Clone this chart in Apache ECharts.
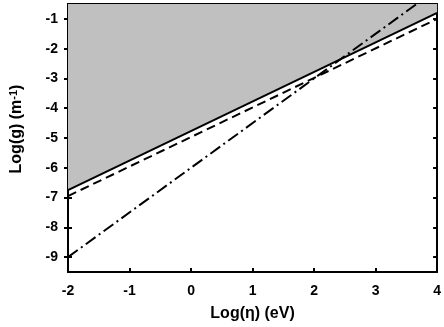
<!DOCTYPE html>
<html>
<head>
<meta charset="utf-8">
<script src="https://cdn.jsdelivr.net/npm/echarts@6/dist/echarts.min.js"></script>
<style>
  html, body { margin: 0; padding: 0; background: #fff; }
  #chart { width: 444px; height: 327px; }
</style>
</head>
<body>
<div id="chart"></div>
<script>
// log(eta) end points of the lines
const xEnds = [-2, 4];
const solidLine = [-6.75, -0.8];   // boundary of the shaded region
const dashedLine = [-6.95, -1.0];
const dashDotLine = [-9, 0];
const xTicks = [-2, -1, 0, 1, 2, 3, 4];
const yTicks = [-9, -8, -7, -6, -5, -4, -3, -2, -1];

const font = "'Liberation Sans', Arial, sans-serif";

function pairs(ys) {
  return xEnds.map((x, i) => [x, ys[i]]);
}

const chart = echarts.init(document.getElementById("chart"));

const tickStyle = { color: "#000", width: 2 };

const hiddenY = {
  type: "value",
  min: -9.5,
  max: -0.5,
  splitLine: { show: false },
  axisLabel: { show: false, customValues: yTicks },
  axisLine: { show: false, onZero: false }
};

const option = {
  animation: false,
  grid: { left: 62, right: 5, top: 4, bottom: 53 },
  xAxis: [
    {
      type: "value",
      min: -2,
      max: 4,
      interval: 1,
      name: "Log(η) (eV)",
      nameLocation: "middle",
      nameGap: 34,
      nameTextStyle: { fontFamily: font, fontWeight: "bold", fontSize: 16, color: "#000" },
      axisLine: { onZero: false, lineStyle: { color: "#000", width: 2 } },
      axisTick: { inside: true, length: 4, lineStyle: tickStyle, customValues: xTicks },
      axisLabel: {
        fontFamily: font, fontWeight: "bold", fontSize: 14, color: "#000", margin: 12,
        customValues: xTicks
      },
      splitLine: { show: false }
    },
    {
      type: "value",
      position: "top",
      min: -2,
      max: 4,
      axisLine: { onZero: false, lineStyle: { color: "#000", width: 2 } },
      axisTick: { show: false },
      axisLabel: { show: false },
      splitLine: { show: false }
    }
  ],
  yAxis: [
    {
      type: "value",
      min: -9.5,
      max: -0.5,
      name: "Log(g) (m{sup|-1})",
      nameLocation: "middle",
      nameGap: 42,
      nameRotate: 90,
      nameTextStyle: {
        fontFamily: font, fontWeight: "bold", fontSize: 16, color: "#000",
        padding: [0, 0, 0, 18],
        rich: {
          sup: { fontFamily: font, fontWeight: "bold", fontSize: 11, color: "#000", verticalAlign: "top", padding: [0, 0, 7, 0] }
        }
      },
      axisLine: { onZero: false, lineStyle: { color: "#000", width: 2 } },
      axisTick: { length: 4, lineStyle: tickStyle, customValues: yTicks },
      axisLabel: {
        fontFamily: font, fontWeight: "bold", fontSize: 14, color: "#000", margin: 10,
        customValues: yTicks
      },
      splitLine: { show: false }
    },
    Object.assign({}, hiddenY, {
      position: "left",
      axisTick: { inside: true, length: 4, lineStyle: tickStyle, customValues: yTicks }
    }),
    Object.assign({}, hiddenY, {
      position: "right",
      axisLine: { show: true, onZero: false, lineStyle: { color: "#000", width: 2 } },
      axisTick: { inside: true, length: 4, lineStyle: tickStyle, customValues: yTicks }
    })
  ],
  series: [
    {
      type: "line",
      data: pairs(solidLine),
      symbol: "none",
      z: 3,
      lineStyle: { color: "#000", width: 2 },
      areaStyle: { color: "#c0c0c0", opacity: 1, origin: "end" }
    },
    {
      type: "line",
      data: pairs(dashedLine),
      symbol: "none",
      z: 4,
      lineStyle: { color: "#000", width: 2, type: [9, 5] }
    },
    {
      type: "line",
      data: pairs(dashDotLine),
      symbol: "none",
      z: 5,
      clip: true,
      lineStyle: { color: "#000", width: 2, type: [12, 4, 2, 4] }
    }
  ]
};

chart.setOption(option);
</script>
</body>
</html>
